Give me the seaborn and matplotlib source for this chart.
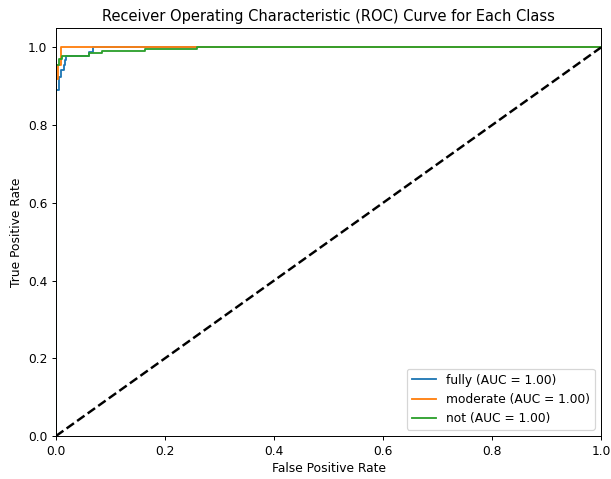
import numpy as np
import pandas as pd
import matplotlib
matplotlib.use('Agg')
import matplotlib.pyplot as plt
import seaborn as sns

# ROC-Punkte pro Klasse
fully_fpr = [0.0, 0.0, 0.005, 0.005, 0.006, 0.006, 0.010, 0.010, 0.014, 0.014, 0.017, 0.017,
             0.018, 0.018, 0.060, 0.060, 0.068, 0.068, 1.0]
fully_tpr = [0.0, 0.89, 0.89, 0.906, 0.906, 0.924, 0.924, 0.941, 0.941, 0.954, 0.954, 0.967,
             0.967, 0.979, 0.979, 0.988, 0.988, 1.0, 1.0]

moderate_fpr = [0.0, 0.0, 0.004, 0.004, 0.010, 0.010, 1.0]
moderate_tpr = [0.0, 0.92, 0.92, 0.955, 0.955, 1.0, 1.0]

not_fpr = [0.0, 0.0, 0.006, 0.006, 0.011, 0.011, 0.060, 0.060, 0.085, 0.085, 0.163, 0.163,
           0.258, 0.258, 1.0]
not_tpr = [0.0, 0.954, 0.954, 0.971, 0.971, 0.979, 0.979, 0.985, 0.985, 0.992, 0.992, 0.996,
           0.996, 1.0, 1.0]

class_names = ['fully', 'moderate', 'not']
auc_values = [1.00, 1.00, 1.00]
colors = ['#1f77b4', '#ff7f0e', '#2ca02c']

curves = [(fully_fpr, fully_tpr), (moderate_fpr, moderate_tpr), (not_fpr, not_tpr)]

# Bild ist verkleinert -> kleinere dpi
dpi = 88
fig = plt.figure(figsize=(611 / dpi, 479 / dpi), dpi=dpi)
ax = fig.add_axes([0.0917, 0.0898, 0.8919, 0.8517])

for (fpr, tpr), name, auc, col in zip(curves, class_names, auc_values, colors):
    df = pd.DataFrame({'fpr': fpr, 'tpr': tpr})
    sns.lineplot(data=df, x='fpr', y='tpr', sort=False, estimator=None, color=col,
                 linewidth=1.5, label=f'{name} (AUC = {auc:.2f})', ax=ax)

# Diagonale
ax.plot([0, 1], [0, 1], 'k--', lw=2)

ax.set_xlim(0.0, 1.0)
ax.set_ylim(0.0, 1.05)
ax.set_xlabel('False Positive Rate')
ax.set_ylabel('True Positive Rate')
ax.set_title('Receiver Operating Characteristic (ROC) Curve for Each Class')
ax.legend(loc='lower right')

fig.savefig('out.png', dpi=dpi)
plt.close()
